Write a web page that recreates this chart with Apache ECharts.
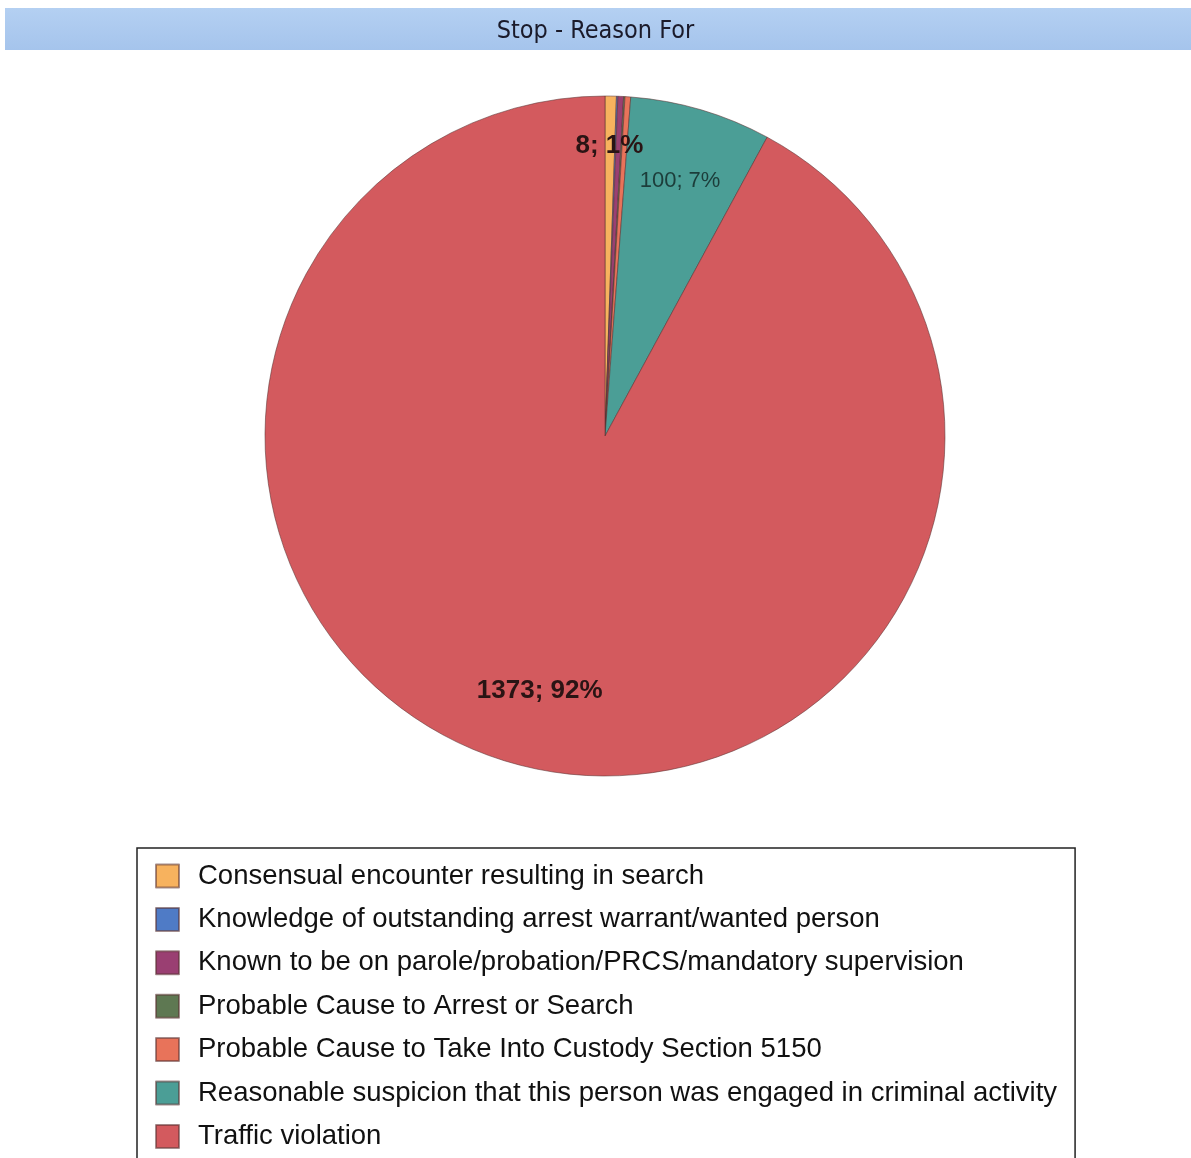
<!DOCTYPE html>
<html>
<head>
<meta charset="utf-8">
<script src="https://cdn.jsdelivr.net/npm/echarts@6/dist/echarts.min.js"></script>
<style>
html,body{margin:0;padding:0;background:#fff;}
#chart{width:1191px;height:1158px;}
</style>
</head>
<body>
<div id="chart"></div>
<script>
const titleText = 'Stop - Reason For';
const categories = [
  'Consensual encounter resulting in search',
  'Knowledge of outstanding arrest warrant/wanted person',
  'Known to be on parole/probation/PRCS/mandatory supervision',
  'Probable Cause to Arrest or Search',
  'Probable Cause to Take Into Custody Section 5150',
  'Reasonable suspicion that this person was engaged in criminal activity',
  'Traffic violation'
];
const values = [8, 1, 4, 1, 4, 100, 1373];
const colors = ['#F7B25E', '#4F7BC6', '#9A3F72', '#5E7852', '#E8735A', '#4B9E96', '#D35A5E'];
const showLabel = [true, false, false, false, false, true, true];

const chart = echarts.init(document.getElementById('chart'), null, {renderer: 'canvas'});

const mainData = categories.map((name, i) => ({
  name: name,
  value: values[i],
  itemStyle: {color: colors[i]}
}));

const labelStyles = [
  {fontSize: 26, fontWeight: 'bold', color: '#2a1414', offset: [0, -25]},
  {}, {}, {}, {},
  {fontSize: 22, fontWeight: 'normal', color: '#1c3d3a'},
  {fontSize: 26, fontWeight: 'bold', color: '#2a1414', offset: [0, -3]}
];

const labelData = categories.map((name, i) => ({
  name: name,
  value: values[i],
  itemStyle: {color: 'rgba(0,0,0,0)', borderWidth: 0},
  label: Object.assign({show: showLabel[i]}, labelStyles[i])
}));

const fmt = p => p.value + '; ' + Math.round(p.percent) + '%';

chart.setOption({
  backgroundColor: '#ffffff',
  animation: false,
  graphic: [{
    type: 'rect',
    shape: {x: 5, y: 8, width: 1186, height: 42},
    style: {
      fill: new echarts.graphic.LinearGradient(0, 0, 0, 1, [
        {offset: 0, color: '#B4D0F2'},
        {offset: 1, color: '#A5C4EC'}
      ])
    },
    z: -10
  }],
  title: {
    text: titleText,
    left: 'center',
    top: 14,
    textStyle: {
      fontFamily: 'Liberation Sans Narrow, DejaVu Sans Condensed, Liberation Sans',
      fontSize: 25,
      fontWeight: 'normal',
      color: '#1a1a2a'
    }
  },
  legend: {
    orient: 'vertical',
    left: 137,
    top: 848,
    height: 500,
    padding: [14, 18, 14, 18],
    borderColor: '#222',
    borderWidth: 1.5,
    itemWidth: 23,
    itemHeight: 23,
    itemGap: 15.4,
    icon: 'rect',
    data: categories,
    textStyle: {
      fontFamily: 'Liberation Sans',
      fontSize: 27.5,
      lineHeight: 27,
      color: '#111111',
      padding: [0, 0, 0, 14]
    }
  },
  series: [
    {
      name: 'Stop - Reason For',
      type: 'pie',
      center: [605, 436],
      radius: [0, 340],
      startAngle: 90,
      clockwise: true,
      avoidLabelOverlap: false,
      label: {show: false},
      labelLine: {show: false},
      itemStyle: {borderColor: 'rgba(90,50,50,0.55)', borderWidth: 1},
      emphasis: {disabled: true},
      data: mainData
    },
    {
      name: 'labels',
      type: 'pie',
      center: [605, 436],
      radius: [185, 340],
      startAngle: 90,
      clockwise: true,
      silent: true,
      avoidLabelOverlap: false,
      labelLine: {show: false},
      label: {
        position: 'inside',
        formatter: fmt,
        fontFamily: 'Liberation Sans'
      },
      emphasis: {disabled: true},
      data: labelData
    }
  ]
});
</script>
</body>
</html>
